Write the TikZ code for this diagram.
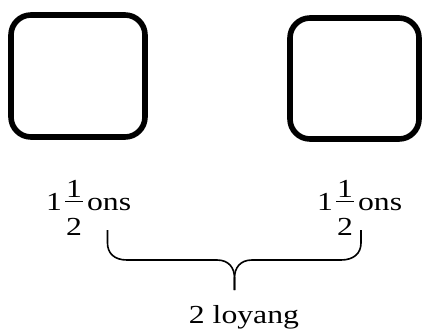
\documentclass[tikz,border=0pt]{standalone}
\usepackage{fontspec}
\setmainfont[FakeStretch=1.22]{Liberation Serif}
\usetikzlibrary{positioning}
\tikzstyle{pan}=[draw,line width=5.6pt,rounded corners=20pt,rectangle,inner sep=0pt]
\tikzstyle{every node}=[font=\fontsize{26}{30}\selectfont]
\tikzstyle{brace}=[line width=1.6pt]
\newcommand{\mixfrac}[3]{#1\kern3pt\makebox[0pt][l]{\raisebox{13pt}{\makebox[18pt]{#2}}}\makebox[0pt][l]{\raisebox{-25pt}{\makebox[18pt]{#3}}}\rule[8pt]{18pt}{1.5pt}\kern4pt}

\begin{document}
\begin{tikzpicture}[x=1pt,y=-1pt]
    \useasboundingbox (0,0) rectangle (425,334);
    \node[pan, minimum width=134pt, minimum height=122pt] (p1) at (78,76) {};
    \node[pan, minimum width=129pt, minimum height=121pt] (p2) at (354.5,78.5) {};
    \node[anchor=base west, inner sep=0pt] (w1) at (46,210) {\mixfrac{1}{1}{2}ons};
    \node[anchor=base west, inner sep=0pt] (w2) at (317,210) {\mixfrac{1}{1}{2}ons};
    \coordinate (bl) at (107.5,230);
    \coordinate (br) at (361,230);
    \coordinate (bt) at (234.5,290);
    \node[anchor=base, inner sep=0pt] (total) at (244,323) {2 loyang};
    \draw[brace] (bl) -- (107.5,243) .. controls (107.5,253) and (114,260) .. (127,260)
        -- (217,260) .. controls (229,260) and (234.5,268) .. (234.5,278) -- (bt);
    \draw[brace] (br) -- (361,243) .. controls (361,253) and (354,260) .. (341,260)
        -- (252,260) .. controls (240,260) and (234.5,268) .. (234.5,278) -- (bt);
\end{tikzpicture}
\end{document}
